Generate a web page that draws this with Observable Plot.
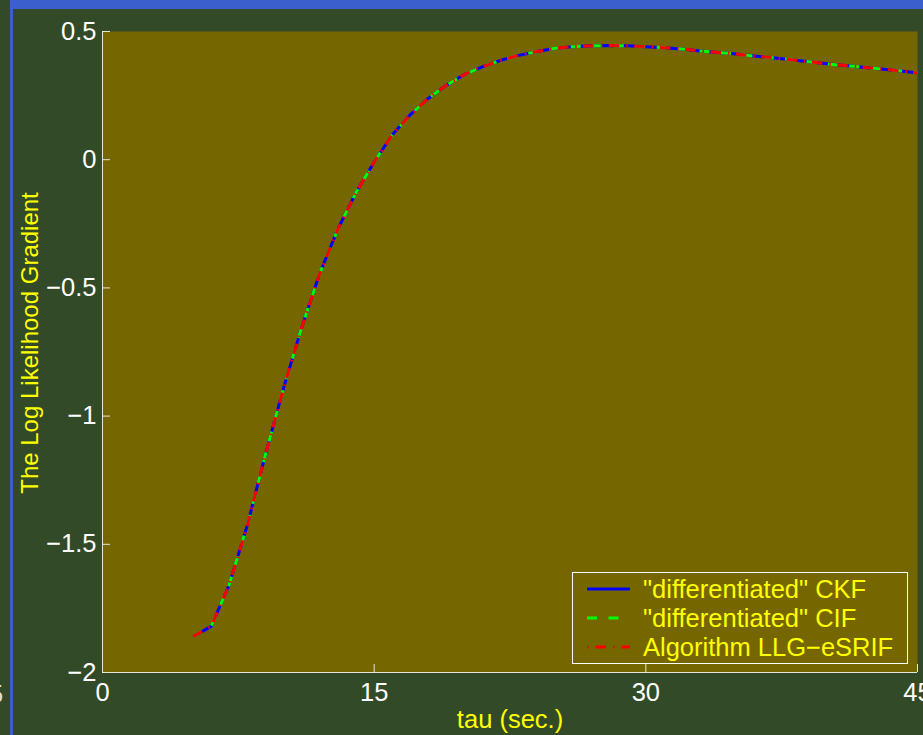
<!DOCTYPE html>
<html>
<head>
<meta charset="utf-8">
<script src="https://cdn.jsdelivr.net/npm/d3@7"></script>
<script src="https://cdn.jsdelivr.net/npm/@observablehq/plot@0.6"></script>
<style>
  html, body { margin: 0; padding: 0; background: #334a28; overflow: hidden; }
  #wrap { position: relative; width: 923px; height: 735px; font-family: "Liberation Sans", Arial, sans-serif; overflow: hidden; }
  #wrap > svg { position: absolute; left: 0; top: 0; }
  .bar { position: absolute; background: #3b5fcc; }
  #legend { position: absolute; left: 572px; top: 572px; width: 334px; height: 90px; border: 1px solid #ffffff; background: #766600; }
  .lrow { position: absolute; left: 0; height: 28px; width: 334px; }
  .lrow svg { position: absolute; left: 14px; top: 0; }
  .lrow span { position: absolute; left: 70px; top: 0; line-height: 28px; font-size: 25.5px; color: #ffff00; white-space: nowrap; }
  #stray { position: absolute; left: -11px; top: 680px; line-height: 28px; font-size: 25.5px; color: #dddddd; }
</style>
</head>
<body>
<div id="wrap"></div>
<script>
// ---- data ----
const tau = [5, 6, 7, 8, 9, 10, 11, 12, 13, 14, 15, 16, 17, 18, 19, 20, 21, 22, 23, 24, 25,
             26, 27, 28, 29, 30, 31, 32, 33, 34, 35, 36, 37, 38, 39, 40, 41, 42, 43, 44, 45];
const gradient = [-1.860, -1.820, -1.657, -1.424, -1.149, -0.890, -0.654, -0.443, -0.270, -0.128,
                  -0.009, 0.097, 0.176, 0.240, 0.291, 0.333, 0.363, 0.388, 0.407, 0.422, 0.435,
                  0.441, 0.444, 0.445, 0.444, 0.441, 0.437, 0.432, 0.424, 0.418, 0.412,
                  0.404, 0.398, 0.390, 0.382, 0.374, 0.367, 0.361, 0.354, 0.347, 0.338];
const seriesNames = ['"differentiated" CKF', '"differentiated" CIF', 'Algorithm LLG\u2212eSRIF'];
const seriesColors = ["#0000ff", "#00ff00", "#ff0000"];
const seriesDash = [null, "10,11.5", "10.5,7,1.5,6.5"];
const xTicks = [0, 15, 30, 45];
const yTicks = [-2, -1.5, -1, -0.5, 0, 0.5];
const xLabel = "tau (sec.)";
const yLabel = "The Log Likelihood Gradient";

// ---- chart ----
const W = 923, H = 735;
const mT = 31, mB = 63, mL = 102, mR = 6;
const rows = tau.map((t, i) => ({tau: t, g: gradient[i]}));
const axisColor = "#e6e6dc";
const tickLenY = 8 * 2.5 / (H - mT - mB);
const tickLenX = 8 * 45 / (W - mL - mR);
const fmt = (d) => (d < 0 ? "\u2212" : "") + String(Math.abs(d));

const lineMarks = seriesNames.map((name, i) =>
  Plot.line(rows, {x: "tau", y: "g", stroke: seriesColors[i], strokeWidth: 3,
                   strokeDasharray: seriesDash[i] || undefined, strokeLinecap: "butt", strokeLinejoin: "round"}));

const chart = Plot.plot({
  width: W, height: H,
  marginTop: mT, marginBottom: mB, marginLeft: mL, marginRight: mR,
  style: {background: "transparent", color: "#ffffff", fontFamily: "'Liberation Sans', Arial, sans-serif", fontSize: "25.5px", overflow: "visible"},
  x: {domain: [0, 45]},
  y: {domain: [-2, 0.5]},
  marks: [
    Plot.frame({fill: "#766600", stroke: null}),
    ...lineMarks,
    Plot.ruleX(xTicks, {y1: -2, y2: -2 + tickLenY, stroke: axisColor, strokeWidth: 1}),
    Plot.ruleY(yTicks, {x1: 0, x2: tickLenX, stroke: axisColor, strokeWidth: 1}),
    Plot.ruleX([0], {stroke: axisColor, strokeWidth: 1}),
    Plot.ruleY([-2], {stroke: axisColor, strokeWidth: 1}),
    Plot.axisX({ticks: xTicks, tickFormat: fmt, tickSize: 0, tickPadding: 10, label: null, fill: "#ffffff", fontSize: 25.5}),
    Plot.axisY({ticks: yTicks, tickFormat: fmt, tickSize: 0, tickPadding: 6, label: null, fill: "#ffffff", fontSize: 25.5}),
    Plot.text([xLabel], {frameAnchor: "bottom", dy: 47, fill: "#ffff00", fontSize: 25.5, lineAnchor: "middle", textAnchor: "middle"}),
    Plot.text([yLabel], {frameAnchor: "left", rotate: -90, dx: -72.5, dy: -9, fill: "#ffff00", fontSize: 24, lineAnchor: "middle", textAnchor: "middle"})
  ]
});

const wrap = document.getElementById("wrap");
wrap.appendChild(chart);

// frame bars
const topBar = document.createElement("div");
topBar.className = "bar"; topBar.style.cssText = "left:10px;top:0;width:913px;height:9px;";
wrap.appendChild(topBar);
const leftBar = document.createElement("div");
leftBar.className = "bar"; leftBar.style.cssText = "left:10px;top:0;width:3px;height:735px;";
wrap.appendChild(leftBar);

// stray glyph at left edge
const stray = document.createElement("div");
stray.id = "stray"; stray.textContent = "5";
wrap.appendChild(stray);

// legend
const legend = document.createElement("div");
legend.id = "legend";
const rowCenters = [16, 44.7, 74.3];
seriesNames.forEach((name, i) => {
  const r = document.createElement("div");
  r.className = "lrow";
  r.style.top = (rowCenters[i] - 14) + "px";
  const s = d3.create("svg").attr("width", 43).attr("height", 28);
  s.append("line").attr("x1", 0).attr("x2", 43).attr("y1", 14).attr("y2", 14)
    .attr("stroke", seriesColors[i]).attr("stroke-width", 3)
    .attr("stroke-dasharray", i === 2 ? "1.5,7,10.5,7" : seriesDash[i]);
  r.appendChild(s.node());
  const t = document.createElement("span");
  t.textContent = name;
  r.appendChild(t);
  legend.appendChild(r);
});
wrap.appendChild(legend);
</script>
</body>
</html>
